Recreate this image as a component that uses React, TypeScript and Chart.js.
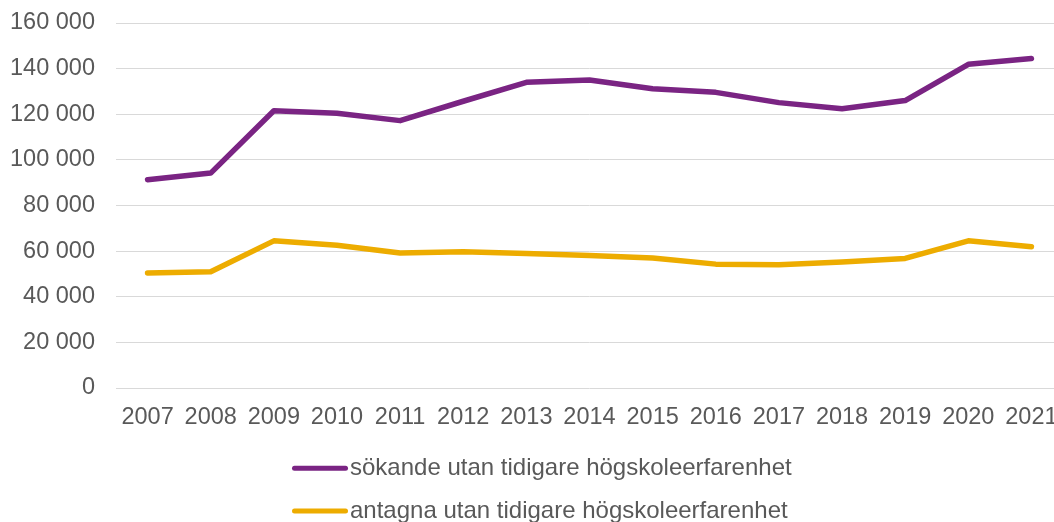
import React, { useEffect, useRef } from "react";
import { Chart, registerables } from "chart.js";

Chart.register(...registerables);

const years = ["2007","2008","2009","2010","2011","2012","2013","2014","2015","2016","2017","2018","2019","2020","2021"];
const sokande = [91300, 94200, 121500, 120400, 117200, 125700, 134000, 135000, 131200, 129600, 125100, 122400, 126000, 141900, 144400];
const antagna = [50400, 51000, 64500, 62600, 59200, 59700, 59000, 58100, 57000, 54300, 54000, 55200, 56800, 64500, 61900];
const seriesNames = ["sökande utan tidigare högskoleerfarenhet", "antagna utan tidigare högskoleerfarenhet"];
const seriesColors = ["#7a2483", "#edac00"];

const FONT = "'Liberation Sans', Arial, sans-serif";
const TEXT = "#595959";

const legendPlugin = {
  id: "stackedLegend",
  afterDraw(chart: any) {
    const ctx = chart.ctx;
    const rows = [468.3, 511];
    ctx.save();
    chart.data.datasets.forEach((ds: any, i: number) => {
      const y = rows[i];
      ctx.strokeStyle = ds.borderColor;
      ctx.lineWidth = 5;
      ctx.lineCap = "round";
      ctx.beginPath();
      ctx.moveTo(294.5, y);
      ctx.lineTo(345.5, y);
      ctx.stroke();
      ctx.fillStyle = TEXT;
      ctx.font = `24px ${FONT}`;
      ctx.textBaseline = "middle";
      ctx.textAlign = "left";
      ctx.fillText(ds.label, 350, y);
    });
    ctx.restore();
  },
};

export default function App() {
  const ref = useRef<HTMLCanvasElement>(null);
  useEffect(() => {
    document.body.style.margin = "0";
    document.body.style.overflow = "hidden";
    const chart = new Chart(ref.current!, {
      type: "line",
      data: {
        labels: years,
        datasets: [
          { label: seriesNames[0], data: sokande, borderColor: seriesColors[0], backgroundColor: seriesColors[0] },
          { label: seriesNames[1], data: antagna, borderColor: seriesColors[1], backgroundColor: seriesColors[1] },
        ].map((d) => ({
          ...d,
          borderWidth: 5.5,
          pointRadius: 0,
          pointHoverRadius: 0,
          tension: 0,
          borderCapStyle: "round" as const,
          borderJoinStyle: "round" as const,
          fill: false,
        })),
      },
      options: {
        animation: false,
        responsive: false,
        maintainAspectRatio: false,
        layout: { padding: { top: 23, right: 7, bottom: 91, left: 0 } },
        plugins: { legend: { display: false }, tooltip: { enabled: false } },
        scales: {
          x: {
            offset: true,
            grid: { display: false, drawTicks: false },
            border: { display: false },
            ticks: { color: TEXT, font: { family: FONT, size: 23.5 }, padding: 15, maxRotation: 0, autoSkip: false },
            afterFit: (s: any) => { s.height = 43; s.paddingLeft = 0; s.paddingRight = 0; },
          },
          y: {
            min: 0,
            max: 160000,
            grid: { color: "#d9d9d9", lineWidth: 1, drawTicks: false },
            border: { display: false },
            ticks: {
              stepSize: 20000,
              color: TEXT,
              font: { family: FONT, size: 23.5 },
              padding: 21,
              callback: (v: any) => {
                const n = Number(v);
                if (n === 0) return "0";
                return `${Math.floor(n / 1000)} ${String(n % 1000).padStart(3, "0")}`;
              },
            },
            afterFit: (s: any) => { s.width = 116; s.paddingTop = 0; s.paddingBottom = 0; },
          },
        },
      },
      plugins: [legendPlugin],
    });
    return () => chart.destroy();
  }, []);
  return <canvas ref={ref} width={1070} height={522} style={{ display: "block", width: 1070, height: 522 }} />;
}
